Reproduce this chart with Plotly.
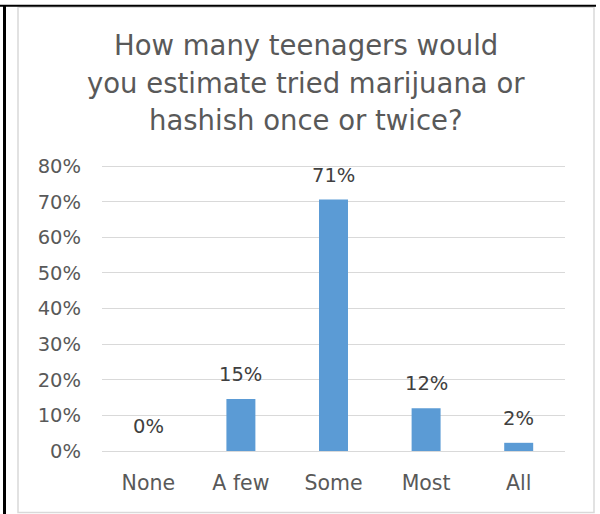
import plotly.graph_objects as go

categories = ["None", "A few", "Some", "Most", "All"]
values = [0.0, 0.146, 0.706, 0.12, 0.023]
labels = ["0%", "15%", "71%", "12%", "2%"]
title_lines = ["How many teenagers would", "you estimate tried marijuana or", "hashish once or twice?"]

W, H = 600, 514
YMAX = 0.806
L, R, B = 102, 565, 451
T = B - (B - 166) * YMAX / 0.8  # so that 80% sits at y=166

def px(x):
    return (x - L) / (R - L)

def py(y):
    return (B - y) / (B - T)

FONT = "DejaVu Sans"
GREY = "#595959"

fig = go.Figure()
fig.add_trace(go.Bar(x=categories, y=values, marker=dict(color="#5B9BD5", line=dict(width=0)),
                     hoverinfo="skip"))

annotations = []
for c, v, t in zip(categories, values, labels):
    annotations.append(dict(x=c, y=v, xref="x", yref="y", text=t, showarrow=False,
                            yanchor="bottom", yshift=11,
                            font=dict(family=FONT, size=19.5, color="#404040")))
for i, line in enumerate(title_lines):
    annotations.append(dict(x=px(306), y=py([45, 82.5, 120][i]), xref="paper", yref="paper",
                            text=line, showarrow=False, xanchor="center", yanchor="middle",
                            font=dict(family=FONT, size=27.5, color=GREY)))

shapes = [
    dict(type="rect", xref="paper", yref="paper", x0=px(18), x1=px(594), y0=py(7), y1=py(512.5),
         line=dict(color="#d9d9d9", width=1.5), layer="below"),
    dict(type="line", xref="paper", yref="paper", x0=px(0), x1=px(596), y0=py(5.5), y1=py(5.5),
         line=dict(color="black", width=2)),
    dict(type="line", xref="paper", yref="paper", x0=px(4.5), x1=px(4.5), y0=py(5), y1=py(514),
         line=dict(color="black", width=3)),
]

fig.update_layout(
    width=W, height=H,
    margin=dict(l=L, r=W - R, t=T, b=H - B, pad=0),
    paper_bgcolor="white", plot_bgcolor="white",
    showlegend=False,
    bargap=0.687,
    annotations=annotations,
    shapes=shapes,
    xaxis=dict(showgrid=False, showline=False, zeroline=False, ticks="",
               tickfont=dict(family=FONT, size=20.5, color=GREY), ticklabelstandoff=17,
               fixedrange=True),
    yaxis=dict(range=[0, YMAX], tickvals=[0, 0.1, 0.2, 0.3, 0.4, 0.5, 0.6, 0.7, 0.8],
               tickformat=".0%", showgrid=True,
               gridcolor="#d9d9d9", gridwidth=1, zeroline=True, zerolinecolor="#d9d9d9",
               zerolinewidth=1, showline=False, ticks="",
               tickfont=dict(family=FONT, size=19.5, color=GREY), ticklabelstandoff=20,
               fixedrange=True),
)

fig.write_html("out.html", config={"displayModeBar": False},
               post_script="document.body.style.margin='0';document.body.style.overflow='hidden';")
